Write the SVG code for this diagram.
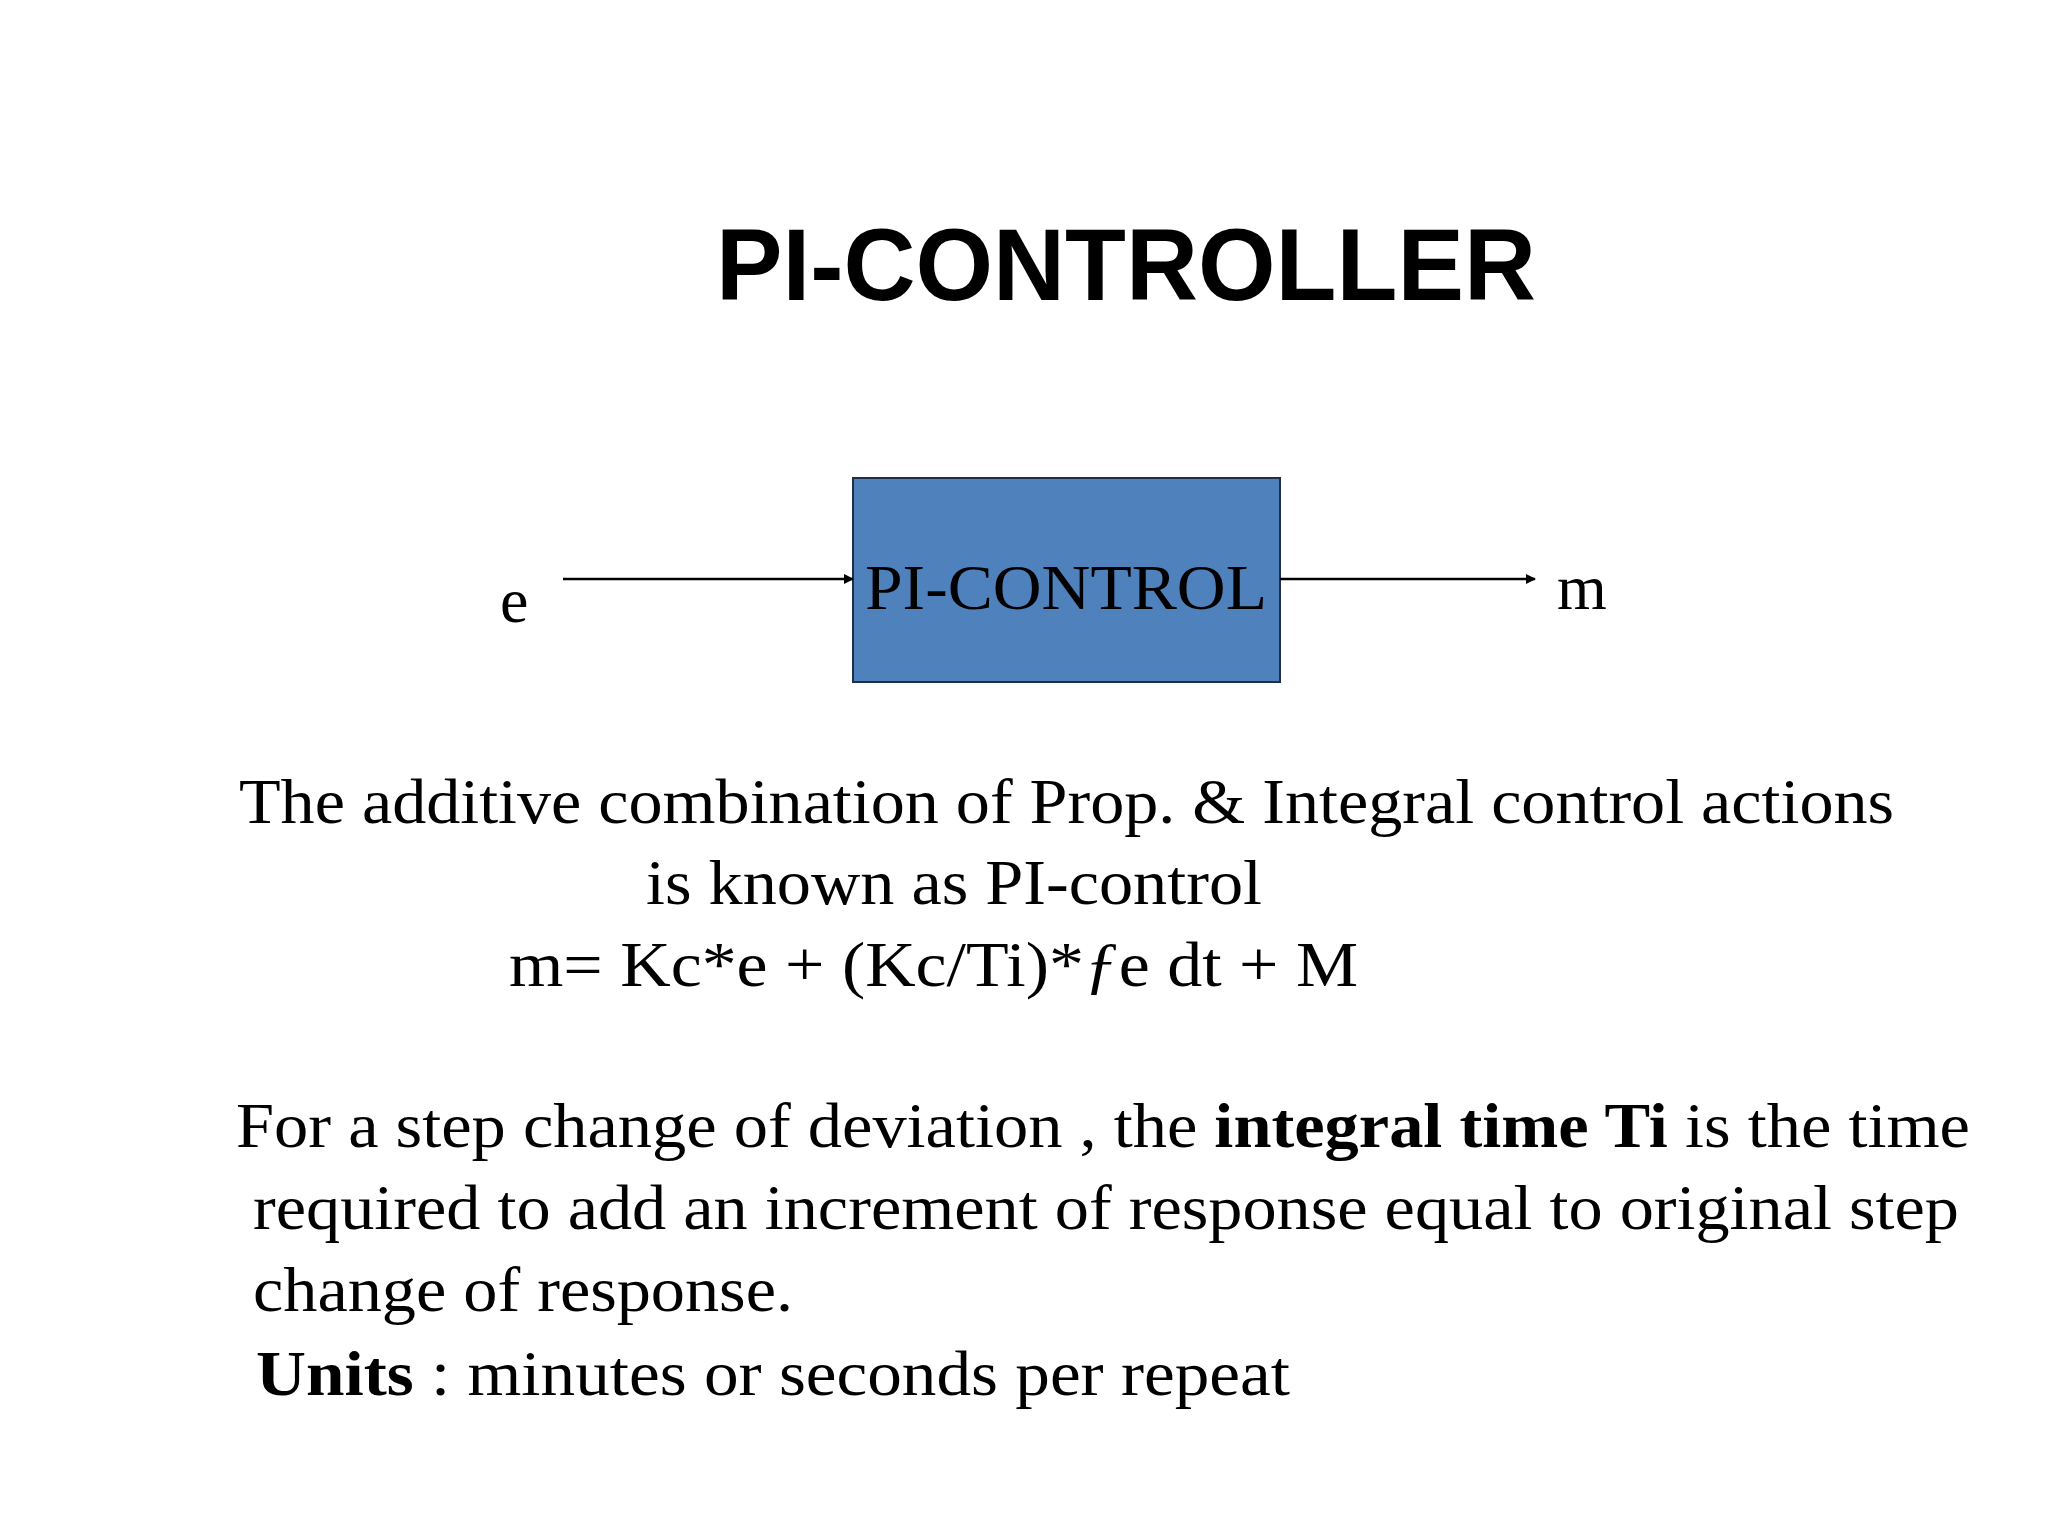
<svg xmlns="http://www.w3.org/2000/svg" width="2048" height="1536" viewBox="0 0 2048 1536">
<style>
.t{font-family:"Liberation Serif","Times New Roman",serif;font-size:64px;fill:#000}
.c{stroke:#000;stroke-width:2.5;fill:none}
</style>
<defs><marker id="ah" markerWidth="10" markerHeight="10" refX="9" refY="5" orient="auto" markerUnits="userSpaceOnUse"><path d="M0,0 L10,5 L0,10 Z" fill="#000"/></marker></defs>
<rect width="2048" height="1536" fill="#fff"/>
<text x="716" y="300" font-family="'Liberation Sans',Arial,sans-serif" font-weight="bold" font-size="102" textLength="820" lengthAdjust="spacingAndGlyphs">PI-CONTROLLER</text>
<g id="block">
<rect x="853" y="478" width="427" height="204" fill="#4f81bd" stroke="#1f2f4a" stroke-width="2"/>
<text class="t" x="865" y="609" font-size="68" textLength="402" lengthAdjust="spacingAndGlyphs">PI-CONTROL</text>
</g>
<g id="e"><text class="t" x="500" y="622">e</text></g>
<g id="m"><text class="t" x="1557" y="609">m</text></g>
<g id="connectors">
<line class="c" x1="563" y1="579" x2="853" y2="579" marker-end="url(#ah)"/>
<line class="c" x1="1280" y1="579" x2="1535" y2="579" marker-end="url(#ah)"/>
</g>
<g xml:space="preserve">
<text class="t" x="239" y="823" textLength="1655" lengthAdjust="spacingAndGlyphs">The additive combination of Prop. &amp; Integral control actions</text>
<text class="t" x="646" y="904" textLength="616" lengthAdjust="spacingAndGlyphs">is known as PI-control</text>
<text class="t" x="509" y="986" textLength="849" lengthAdjust="spacingAndGlyphs">m= Kc*e + (Kc/Ti)*<tspan font-style="italic">ƒ</tspan>e dt +  M</text>
<text class="t" x="236" y="1147" textLength="1734" lengthAdjust="spacingAndGlyphs">For a step change of deviation , the <tspan font-weight="bold">integral time Ti</tspan> is the time</text>
<text class="t" x="253" y="1229" textLength="1706" lengthAdjust="spacingAndGlyphs">required to add an increment of response equal to original step</text>
<text class="t" x="253" y="1311" textLength="540" lengthAdjust="spacingAndGlyphs">change of response.</text>
<text class="t" x="256" y="1395" textLength="1034" lengthAdjust="spacingAndGlyphs"><tspan font-weight="bold">Units</tspan> :  minutes or seconds per repeat</text>
</g>
</svg>
